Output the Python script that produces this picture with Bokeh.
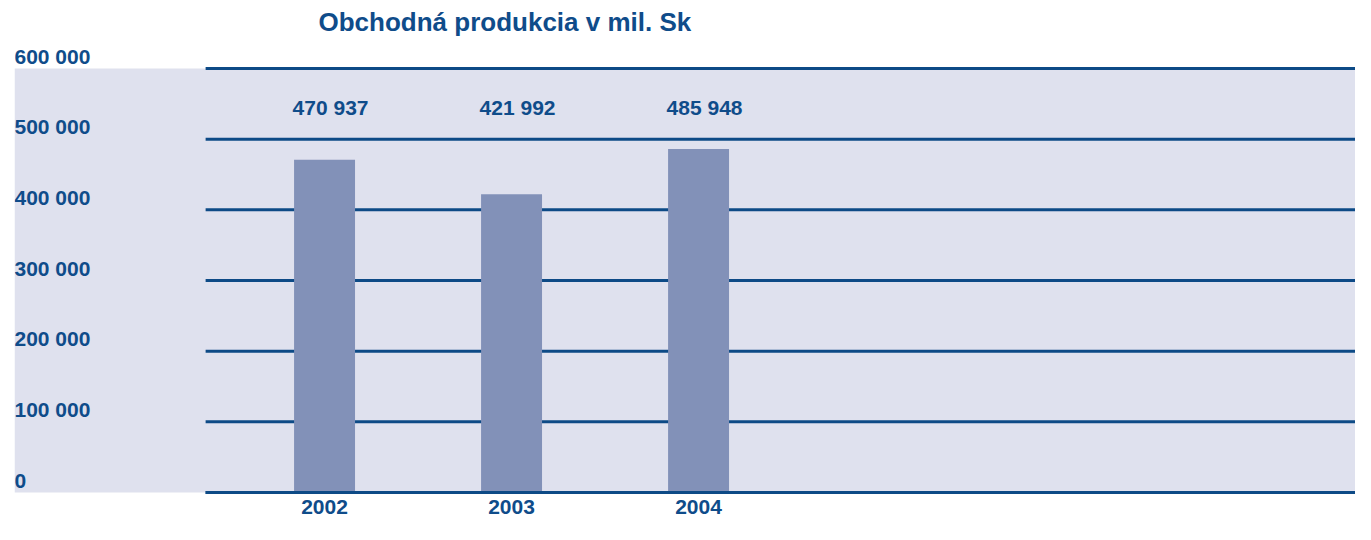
from bokeh.plotting import figure
from bokeh.models import ColumnDataSource, Range1d, FixedTicker, LabelSet, BoxAnnotation
from bokeh.core.properties import value
from bokeh.embed import file_html
from bokeh.resources import INLINE

# ---- data ----
title_text = "Obchodná produkcia v mil. Sk"
years = ["2002", "2003", "2004"]
production = [470937, 421992, 485948]
value_labels = ["470 937", "421 992", "485 948"]
y_ticks = [0, 100000, 200000, 300000, 400000, 500000, 600000]
y_tick_labels = ["0", "100 000", "200 000", "300 000", "400 000", "500 000", "600 000"]

# ---- style ----
FONT = "Liberation Sans"
BLUE = "#0f4c8a"
LINE = "#0d4a86"
BAND = "#dfe1ee"
BAR = "#8291b8"

X_START, X_END = -1.658, 5.513
GRID_X0 = -0.636
BAR_W = 0.326
Y_START, Y_END = -2830, 639623

xs = list(range(len(years)))

p = figure(width=1355, height=524,
           x_range=Range1d(X_START, X_END), y_range=Range1d(Y_START, Y_END),
           output_backend="svg", toolbar_location=None,
           min_border_left=14, min_border_right=0, min_border_top=40, min_border_bottom=30,
           background_fill_color="white", border_fill_color="white", outline_line_color=None)

p.xgrid.visible = False
p.ygrid.visible = False
p.yaxis.visible = False

# lavender band between lowest and highest tick
p.add_layout(BoxAnnotation(bottom=y_ticks[0], top=y_ticks[-1], fill_color=BAND,
                           fill_alpha=1.0, line_color=None, level="underlay"))

ax = p.xaxis[0]
ax.ticker = FixedTicker(ticks=xs)
ax.major_label_overrides = {x: y for x, y in zip(xs, years)}
ax.axis_line_color = None
ax.major_tick_line_color = None
ax.minor_tick_line_color = None
ax.major_tick_out = 0
ax.major_label_standoff = 5
ax.major_label_text_font = FONT
ax.major_label_text_font_size = "21px"
ax.major_label_text_font_style = "bold"
ax.major_label_text_color = BLUE

# grid lines (behind bars)
grid_src = ColumnDataSource(dict(y=y_ticks))
p.segment(x0=GRID_X0, y0="y", x1=X_END, y1="y", source=grid_src,
          line_color=LINE, line_width=3)

# bars
bar_src = ColumnDataSource(dict(x=xs, top=production, label=value_labels))
p.vbar(x="x", top="top", bottom=0, width=BAR_W, source=bar_src,
       fill_color=BAR, line_color=None)

# baseline drawn over bars
p.segment(x0=GRID_X0, y0=y_ticks[0], x1=X_END, y1=y_ticks[0],
          line_color=LINE, line_width=3)

# value labels at fixed height
p.add_layout(LabelSet(x="x", y=y_ticks[-1], text="label", source=bar_src,
                      x_offset=6, y_offset=-46, text_align="center",
                      text_baseline="alphabetic", text_font=value(FONT),
                      text_font_size="21px", text_font_style="bold",
                      text_color=BLUE))

# y tick labels (left aligned, above lines)
ylab_src = ColumnDataSource(dict(y=y_ticks, text=y_tick_labels))
p.add_layout(LabelSet(x=X_START, y="y", text="text", source=ylab_src,
                      x_offset=0, y_offset=5, text_align="left",
                      text_baseline="alphabetic", text_font=value(FONT),
                      text_font_size="21px", text_font_style="bold",
                      text_color=BLUE))

# title
p.title.text = title_text
p.title.align = "left"
p.title.offset = 304
p.title.standoff = 8
p.title.text_font = FONT
p.title.text_font_size = "26px"
p.title.text_font_style = "bold"
p.title.text_color = BLUE

open("out.html", "w").write(file_html(p, INLINE))
